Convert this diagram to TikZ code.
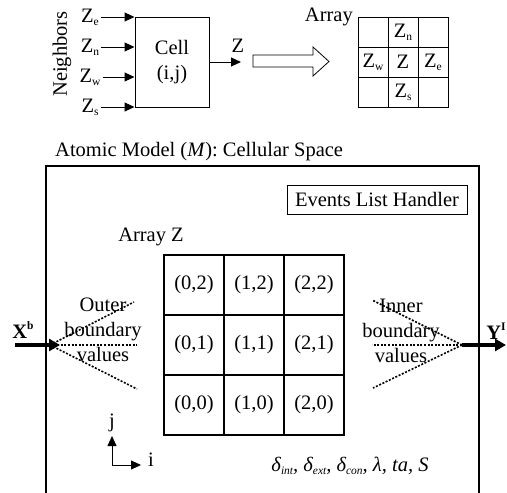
\documentclass[tikz,border=0pt]{standalone}
\usepackage{fontspec}
\setmainfont{Liberation Serif}
\usetikzlibrary{arrows.meta}
\newcommand\mysb[1]{\raisebox{-0.3ex}{\fontsize{11.5}{12}\selectfont #1}}
\newcommand\mysp[1]{\raisebox{1.0ex}{\fontsize{11.5}{12}\selectfont #1}}
\begin{document}
\begin{tikzpicture}[x=1pt,y=-1pt,
  every node/.style={font=\fontsize{20.5}{25}\selectfont, inner sep=2pt},
  arr/.style={-{Triangle[length=10pt,width=9pt]}, line width=1pt},
  bigarr/.style={-{Triangle[length=11pt,width=12pt]}, line width=4pt},
  dots/.style={line width=1.6pt, dash pattern=on 2pt off 1.6pt},
  smallcell/.style={draw, line width=1pt, minimum width=30pt, minimum height=30pt, inner sep=0pt},
  bigcell/.style={draw, line width=2pt, minimum width=60pt, minimum height=60pt, inner sep=0pt}]
\useasboundingbox (0,0) rectangle (507,493);

% ---------- top part ----------
\node[rotate=90] (nb) at (62,54) {Neighbors};
\node[draw, line width=1pt, minimum width=74pt, minimum height=90pt, align=center] (cell) at (172,62) {Cell\\(i,j)};
\node (ze) at (90,17) {Z\mysb{e}};
\node (zn) at (90,47) {Z\mysb{n}};
\node (zw) at (90,77) {Z\mysb{w}};
\node (zs) at (90,107) {Z\mysb{s}};
\draw[arr] (ze) -- (ze -| cell.west);
\draw[arr] (zn) -- (zn -| cell.west);
\draw[arr] (zw) -- (zw -| cell.west);
\draw[arr] (zs) -- (zs -| cell.west);
\node (zl) at (238,46) {Z};
\coordinate (zend) at (241,62);
\draw[arr] (cell.east) -- (zend);

% hollow arrow
\draw[line width=0.8pt] (253,55) -- (313,55) -- (313,47) -- (329,61.5) -- (313,76) -- (313,67) -- (253,67) -- cycle;

% small array
\node[anchor=east, inner sep=0pt] (arrlbl) at (353,17) {Array};
\node[smallcell] (s02) at (373,32) {};
\node[smallcell] (s12) at (403,32) {Z\mysb{n}};
\node[smallcell] (s22) at (433,32) {};
\node[smallcell] (s01) at (373,62) {Z\mysb{w}};
\node[smallcell] (s11) at (403,62) {Z};
\node[smallcell] (s21) at (433,62) {Z\mysb{e}};
\node[smallcell] (s00) at (373,92) {};
\node[smallcell] (s10) at (403,92) {Z\mysb{s}};
\node[smallcell] (s20) at (433,92) {};

% ---------- bottom part ----------
\node[anchor=west, inner sep=0pt] (title) at (55,152) {Atomic Model (\textit{M}): Cellular Space};
\draw[line width=2pt] (46,495) -- (46,166) -- (479,166) -- (479,495);
\node[draw, line width=0.8pt, minimum width=180pt, minimum height=29pt] (elh) at (377,199.5) {Events List Handler};
\node (az) at (151,237) {Array Z};

\node[bigcell] (c02) at (194,285) {(0,2)};
\node[bigcell] (c12) at (254,285) {(1,2)};
\node[bigcell] (c22) at (314,285) {(2,2)};
\node[bigcell] (c01) at (194,345) {(0,1)};
\node[bigcell] (c11) at (254,345) {(1,1)};
\node[bigcell] (c21) at (314,345) {(2,1)};
\node[bigcell] (c00) at (194,405) {(0,0)};
\node[bigcell] (c10) at (254,405) {(1,0)};
\node[bigcell] (c20) at (314,405) {(2,0)};

% outer boundary
\node[align=center] (outer) at (103,330) {Outer\\boundary\\values};
\coordinate (xf) at (50,345);
\coordinate (o1) at (134,302);
\coordinate (o2) at (137,345);
\coordinate (o3) at (137,389);
\draw[dots] (xf) -- (o1);
\draw[dots] (xf) -- (o2);
\draw[dots] (xf) -- (o3);
\node (xb) at (23,330) {\textbf{X\mysp{b}}};
\coordinate (xbs) at (15,345);
\coordinate (xbt) at (60,345);
\draw[bigarr] (xbs) -- (xbt);

% inner boundary
\node[align=center] (inner) at (401,331) {Inner\\boundary\\values};
\coordinate (yf) at (462,345);
\coordinate (i1) at (372,300);
\coordinate (i2) at (372,345);
\coordinate (i3) at (373,388);
\draw[dots] (yf) -- (i1);
\draw[dots] (yf) -- (i2);
\draw[dots] (yf) -- (i3);
\node (yi) at (496,331) {\textbf{Y\mysp{I}}};
\coordinate (yt) at (506,345);
\draw[bigarr] (yf) -- (yt);

% axes
\coordinate (ax) at (112,465);
\node (jl) at (112,423) {j};
\node (il) at (151,460) {i};
\coordinate (axj) at (112,436);
\coordinate (axi) at (141,465);
\draw[arr, line width=0.8pt] (ax) -- (axj);
\draw[arr, line width=0.8pt] (ax) -- (axi);

\node (ops) at (350,466) {\itshape δ\mysb{int}, δ\mysb{ext}, δ\mysb{con}, λ, ta, S};
\end{tikzpicture}
\end{document}
